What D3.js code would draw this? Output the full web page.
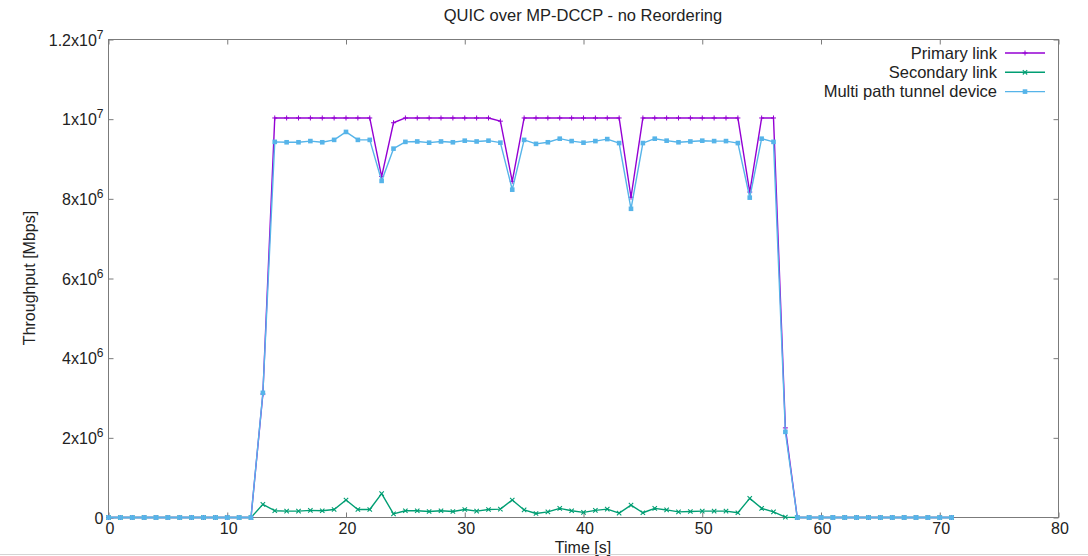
<!DOCTYPE html>
<html>
<head>
<meta charset="utf-8">
<script src="https://cdn.jsdelivr.net/npm/d3@7"></script>
<style>
  body { margin: 0; background: #fff; }
  svg text { font-family: "Liberation Sans", Arial, sans-serif; fill: #222; }
</style>
</head>
<body>
<svg id="chart" width="1088" height="556"></svg>
<script>
// time in seconds
var time = [0,1,2,3,4,5,6,7,8,9,10,11,12,13,14,15,16,17,18,19,20,21,22,23,24,25,26,27,28,29,
            30,31,32,33,34,35,36,37,38,39,40,41,42,43,44,45,46,47,48,49,50,51,52,53,54,55,56,57,58,59,
            60,61,62,63,64,65,66,67,68,69,70,71];

// throughput, in units of 10^6
var primary = [0,0,0,0,0,0,0,0,0,0,0,0,0,3.10,
    10.03,10.03,10.03,10.03,10.03,10.03,10.03,10.03,10.03,8.56,9.91,
    10.03,10.03,10.03,10.03,10.03,10.03,10.03,10.03,9.95,8.44,
    10.03,10.03,10.03,10.03,10.03,10.03,10.03,10.03,10.03,8.04,
    10.03,10.03,10.03,10.03,10.03,10.03,10.03,10.03,10.03,8.17,10.03,10.03,2.25,
    0,0,0,0,0,0,0,0,0,0,0,0,0,0];

var secondary = [0,0,0,0,0,0,0,0,0,0,0,0,0,
    0.33,0.17,0.16,0.16,0.18,0.17,0.20,0.44,0.20,0.20,0.60,0.09,0.17,0.17,0.15,0.17,0.15,0.20,
    0.16,0.20,0.21,0.44,0.19,0.10,0.14,0.23,0.17,0.13,0.18,0.21,0.11,0.31,0.12,0.23,0.19,0.14,
    0.15,0.16,0.16,0.16,0.12,0.48,0.23,0.14,0.01,
    0,0,0,0,0,0,0,0,0,0,0,0,0,0];

var multipath = [0,0,0,0,0,0,0,0,0,0,0,0,0,3.13,
    9.43,9.42,9.42,9.45,9.42,9.48,9.68,9.48,9.48,8.45,9.26,
    9.43,9.44,9.41,9.44,9.42,9.46,9.44,9.46,9.41,8.23,
    9.48,9.38,9.42,9.51,9.45,9.41,9.45,9.50,9.40,7.75,
    9.40,9.51,9.46,9.42,9.44,9.46,9.45,9.45,9.40,8.03,9.51,9.43,2.15,
    0,0,0,0,0,0,0,0,0,0,0,0,0,0];

var seriesNames = ["Primary link", "Secondary link", "Multi path tunnel device"];
var seriesColors = ["#9400d3", "#009e73", "#56b4e9"];
var seriesMarks = ["plus", "cross", "square"];

var xTicks = [0,10,20,30,40,50,60,70,80];
var yTicks = [0,2,4,6,8,10,12];
// label text: [mantissa, exponent]
var yTickLabels = [["0",""],["2x10","6"],["4x10","6"],["6x10","6"],["8x10","6"],["1x10","7"],["1.2x10","7"]];

var svg = d3.select("#chart");
var pLeft = 108.5, pRight = 1058.5, pTop = 39.5, pBottom = 517.5;

var x = d3.scaleLinear().domain([0, 80]).range([pLeft, pRight]);
var y = d3.scaleLinear().domain([0, 12]).range([pBottom, pTop]);

// frame + ticks (gnuplot style: inward ticks mirrored on all sides)
var axisColor = "#7b7b7b";
function styleAxis(g) {
    g.select(".domain").remove();
    g.selectAll("line").attr("stroke", axisColor);
    g.selectAll("text").remove();
}
svg.append("g").attr("transform", "translate(0," + pBottom + ")")
    .call(d3.axisBottom(x).tickValues(xTicks).tickSize(-5)).call(styleAxis);
svg.append("g").attr("transform", "translate(0," + pTop + ")")
    .call(d3.axisTop(x).tickValues(xTicks).tickSize(-5)).call(styleAxis);
svg.append("g").attr("transform", "translate(" + pLeft + ",0)")
    .call(d3.axisLeft(y).tickValues(yTicks).tickSize(-5)).call(styleAxis);
svg.append("g").attr("transform", "translate(" + pRight + ",0)")
    .call(d3.axisRight(y).tickValues(yTicks).tickSize(-5)).call(styleAxis);

svg.append("rect")
    .attr("x", pLeft).attr("y", pTop)
    .attr("width", pRight - pLeft).attr("height", pBottom - pTop)
    .attr("fill", "none").attr("stroke", axisColor).attr("stroke-width", 1);

// tick labels
svg.selectAll(".xlab").data(xTicks).enter().append("text")
    .attr("x", d => x(d) + 1.5).attr("y", pBottom + 16.5)
    .attr("text-anchor", "middle").attr("font-size", "16px")
    .text(d => d);

var ylab = svg.selectAll(".ylab").data(yTicks).enter().append("text")
    .attr("x", pLeft - 5).attr("y", d => y(d) + 6)
    .attr("text-anchor", "end").attr("font-size", "16px");
ylab.append("tspan").text((d, i) => yTickLabels[i][0]);
ylab.append("tspan").attr("dy", -7).attr("font-size", "12px").text((d, i) => yTickLabels[i][1]);

// titles
svg.append("text").attr("x", 583).attr("y", 21)
    .attr("text-anchor", "middle").attr("font-size", "16.5px")
    .text("QUIC over MP-DCCP - no Reordering");
svg.append("text").attr("x", 583).attr("y", 553)
    .attr("text-anchor", "middle").attr("font-size", "16px")
    .text("Time [s]");
svg.append("text")
    .attr("transform", "translate(35,278) rotate(-90)")
    .attr("text-anchor", "middle").attr("font-size", "16px")
    .text("Throughput [Mbps]");

// markers
function drawMark(g, type, cx, cy, color) {
    if (type == "plus") {
        g.append("path").attr("d", "M" + (cx - 2.5) + "," + cy + "h5M" + cx + "," + (cy - 2.5) + "v5")
            .attr("stroke", color).attr("stroke-width", 1);
    } else if (type == "cross") {
        g.append("path").attr("d", "M" + (cx - 2.2) + "," + (cy - 2.2) + "l4.4,4.4M" + (cx - 2.2) + "," + (cy + 2.2) + "l4.4,-4.4")
            .attr("stroke", color).attr("stroke-width", 1.1);
    } else {
        g.append("rect").attr("x", cx - 2.3).attr("y", cy - 2.3).attr("width", 4.6).attr("height", 4.6)
            .attr("fill", color);
    }
}

var allSeries = [primary, secondary, multipath];
var line = d3.line().x((d, i) => x(time[i])).y(d => y(d));

allSeries.forEach(function(vals, s) {
    var g = svg.append("g");
    g.append("path").datum(vals)
        .attr("d", line)
        .attr("fill", "none")
        .attr("stroke", seriesColors[s])
        .attr("stroke-width", 1.4)
        .attr("stroke-linejoin", "round");
    vals.forEach(function(v, i) {
        drawMark(g, seriesMarks[s], x(time[i]), y(v), seriesColors[s]);
    });
});

// legend
seriesNames.forEach(function(name, s) {
    var ly = 53 + s * 19.3;
    svg.append("text").attr("x", 997).attr("y", ly + 5.5)
        .attr("text-anchor", "end").attr("font-size", "16.5px").text(name);
    svg.append("line").attr("x1", 1005).attr("x2", 1045).attr("y1", ly).attr("y2", ly)
        .attr("stroke", seriesColors[s]).attr("stroke-width", 1.4);
    drawMark(svg, seriesMarks[s], 1025, ly, seriesColors[s]);
});

// faint page edge at the bottom
svg.append("line").attr("x1", 0).attr("x2", 1088).attr("y1", 554.5).attr("y2", 554.5)
    .attr("stroke", "#d4d4d4");
</script>
</body>
</html>
